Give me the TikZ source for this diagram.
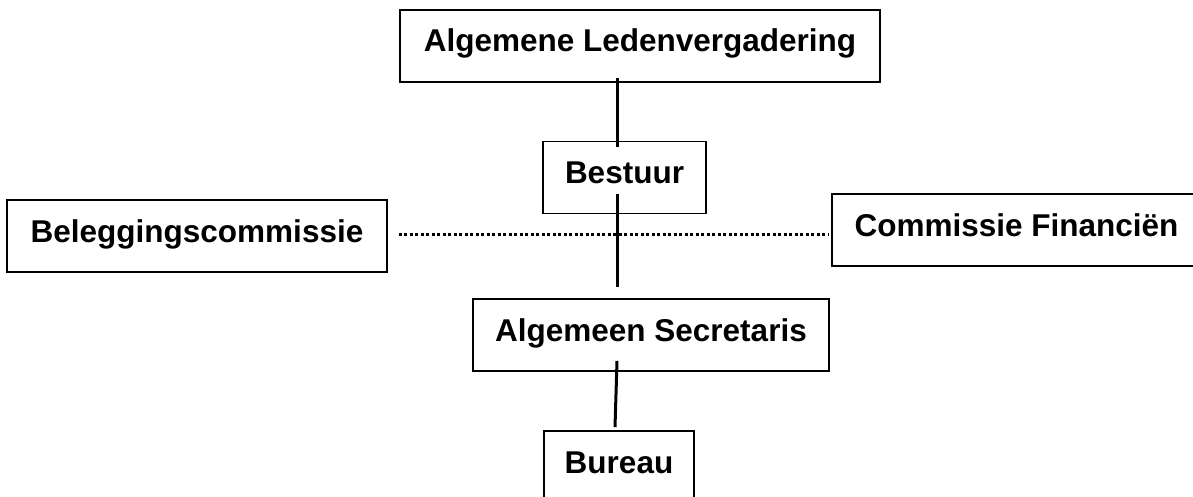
\documentclass[tikz,border=0pt]{standalone}
\usepackage{fontspec}
\setmainfont{Liberation Sans}
\usepackage{tikz}

\begin{document}
\begin{tikzpicture}[x=1pt,y=-1pt,
  orgbox/.style={draw, line width=1.6pt, inner sep=0pt, minimum height=72pt,
    text height=22pt, text depth=10pt, font=\fontsize{31.5}{38}\selectfont\bfseries},
  link/.style={line width=3pt},
  dotline/.style={line width=3pt, dash pattern=on 3pt off 2.5pt}]
\clip (0,0) rectangle (1193,497);
\coordinate (spine) at (617,0);
\node [orgbox, minimum width=480pt] (alv) at (640,46) {Algemene Ledenvergadering};
\node [orgbox, minimum width=163pt] (bestuur) at (624.5,177.5) {Bestuur};
\node [orgbox, minimum width=380pt] (beleg) at (197,236) {Beleggingscommissie};
\node [orgbox, minimum width=369pt] (comfin) at (1016.5,230) {Commissie Financiën};
\node [orgbox, minimum width=356pt] (secr) at (651,335) {Algemeen Secretaris};
\node [orgbox, minimum width=150pt] (bureau) at (619,467) {Bureau};
\draw [link] ([yshift=5pt]alv.south -| spine) -- ([yshift=-6pt]bestuur.north -| spine);
\draw [link] ([yshift=20pt]bestuur.south -| spine) -- ([yshift=11pt]secr.north -| spine);
\draw [link] ([yshift=11pt]secr.south -| spine) -- ([xshift=-2pt,yshift=3pt]bureau.north -| spine);
\draw [dotline] ([xshift=11pt,yshift=2pt]beleg.east) coordinate (dl) -- ([xshift=-2pt]comfin.west |- dl);
\end{tikzpicture}
\end{document}
